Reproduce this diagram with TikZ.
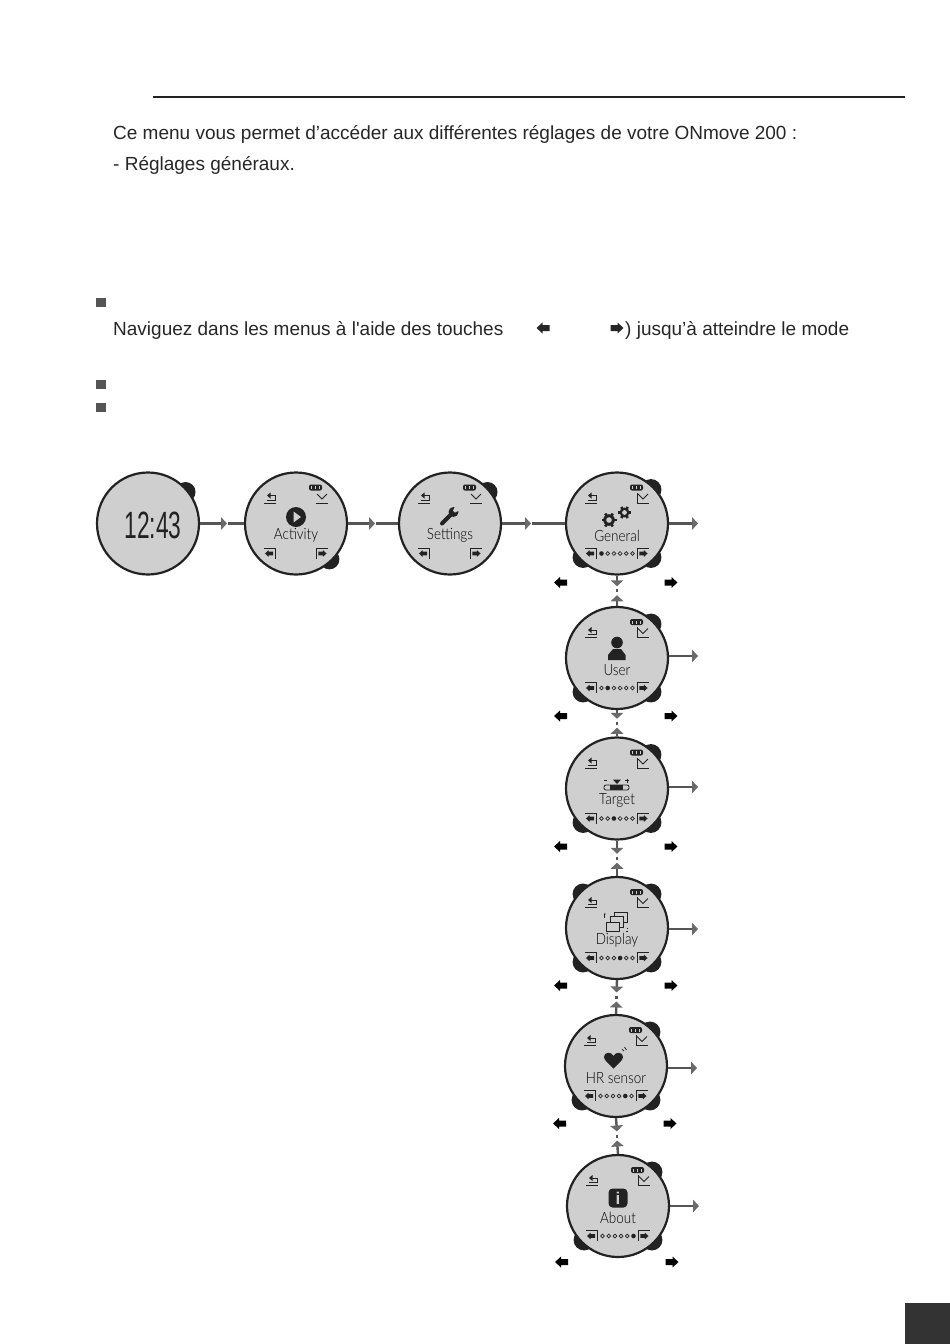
\documentclass[tikz,border=0pt]{standalone}
\usepackage{fontspec}
\setmainfont[Ligatures=TeXOff]{Liberation Sans}
\newfontfamily\lcdfont[FakeStretch=0.87]{Lato Light}
\usepackage{xcolor}
\usetikzlibrary{arrows.meta, positioning, calc}

\definecolor{facegray}{HTML}{CFCFCF}
\definecolor{inkgray}{HTML}{222222}
\definecolor{linkgray}{HTML}{555555}
\definecolor{tipgray}{HTML}{6A6A6A}
\definecolor{bulletgray}{HTML}{555555}

\tikzset{
  watchface/.style={circle,draw=inkgray,fill=facegray,line width=2.2pt,minimum size=102pt,inner sep=0pt},
  watchbtn/.style={fill=inkgray},
  bodytext/.style={anchor=base west,inner sep=0pt,text=black!85,font=\fontsize{19}{21}\selectfont},
  lcdlabel/.style={inner sep=0pt,text=black,font=\lcdfont\fontsize{15.5}{15.5}\selectfont},
  keyline/.style={draw=inkgray,line width=1pt},
  linkin/.style={draw=linkgray,line width=2.4pt,-{Triangle[length=6pt,width=12.5pt,color=tipgray]}},
  linkout/.style={draw=linkgray,line width=2.4pt},
  leftkey/.pic={\fill (-6.5,0) -- (-0.5,-5.5) -- (-0.5,-3) -- (6.5,-3) -- (6.5,3) -- (-0.5,3) -- (-0.5,5.5) -- cycle;},
  rightkey/.pic={\fill (6.5,0) -- (0.5,-5.5) -- (0.5,-3) -- (-6.5,-3) -- (-6.5,3) -- (0.5,3) -- (0.5,5.5) -- cycle;}
}

% back, confirm, battery and the two side keys, from the watch centre
\newcommand{\softkeys}{
  \draw[keyline] (-32,-20.5) -- (-20.5,-20.5);
  \draw[keyline] (-26,-28) -- (-21,-28) -- (-21,-23.5) -- (-29,-23.5);
  \fill[inkgray] (-29,-28) -- (-25.5,-31) -- (-25.5,-25) -- cycle;
  \draw[keyline] (20,-20.5) -- (32,-20.5);
  \draw[keyline] (21,-29.5) -- (26,-24.5) -- (31,-29.5);
  \fill[inkgray,rounded corners=2pt] (13,-39) rectangle (26,-33);
  \foreach \k in {15.5,19.5,23.5} \fill[facegray] (\k-1,-37.5) rectangle (\k+.6,-34.5);
  \draw[keyline] (-32,24.5) -- (-20.5,24.5) -- (-20.5,35);
  \draw[keyline] (32,24.5) -- (20,24.5) -- (20,35);
  \pic[scale=.62,inkgray] at (-27,30) {leftkey};
  \pic[scale=.62,inkgray] at (26.5,30) {rightkey};
}
% the extra side of the confirm key on the menu screens
\newcommand{\confirmside}{\draw[keyline] (20,-31) -- (20,-20.5);}

\newcommand{\gearicon}[3]{
  \begin{scope}[shift={(#1,#2)},scale=#3]
    \foreach \a in {0,60,...,300} \draw[line width=2.6pt,inkgray] (\a:4) -- (\a:7.5);
    \fill[inkgray] (0,0) circle (5.8);
    \fill[facegray] (0,0) circle (2.8);
  \end{scope}
}

\begin{document}
\begin{tikzpicture}[x=1pt,y=-1pt]
  \useasboundingbox (0,0) rectangle (950,1344);

  % Page furniture
  \coordinate (rule start) at (153,97);
  \coordinate (rule end) at (905,97);
  \draw[line width=2.2pt,inkgray] (rule start) -- (rule end);
  \fill[black!80] (905,1303) rectangle (950,1344);

  % Text
  \node[bodytext] (intro) at (113,139) {Ce menu vous permet d’accéder aux différentes réglages de votre ONmove 200 :};
  \node[bodytext] (general text) at (113,170) {- Réglages généraux.};
  \node[bodytext] (browse text) at (113,335) {Naviguez dans les menus à l'aide des touches};
  \node[bodytext] (browse end) at (625,335) {) jusqu’à atteindre le mode};
  \pic[black!85] at (543,328) {leftkey};
  \pic[black!85] at (617,328) {rightkey};
  \foreach \y in {302,384,407}
    \fill[bulletgray] (96,\y-4.5) rectangle (105.5,\y+4.5);

  % Top row of watches
  \foreach \name/\cx/\a in {clock/148/-40, activity/296/47, settings/450/-40} {
    \fill[watchbtn] (\cx,523.5) ++(\a:49) circle (10);
    \node[watchface] (\name) at (\cx,523.5) {};
  }
  \node[inner sep=0pt,text=inkgray,font=\fontsize{38}{38}\selectfont] (clock time) at (153,525) {\scalebox{.6}[1]{12:43}};
  \foreach \name/\lab in {activity/Activity, settings/Settings} {
    \begin{scope}[shift={(\name.center)}]
      \softkeys
      \node[lcdlabel] (\name label) at (0,12) {\lab};
    \end{scope}
  }

  % Column of menu watches
  \foreach \name/\cx/\cy/\btns/\lab/\dot/\ly/\off/\dy in {
    general/617/523.5/{-45,45,135}/General/1/12.5/0/59,
    user/617/658/{-45,45,135}/User/2/12.5/-2/58,
    target/617/788.5/{-45,45,135}/Target/3/12/-1.5/58,
    display/617/928/{-135,-45,45,135}/Display/4/12/1/57.5,
    hr/616/1066/{-45,45,135}/HR sensor/5/12/2/57.5,
    about/618/1206/{-45,45,135}/About/6/11.5/0/56} {
    \foreach \a in \btns
      \fill[watchbtn] (\cx,\cy) ++(\a:48) circle (10.5);
    \node[watchface] (\name) at (\cx,\cy) {};
    \begin{scope}[shift={(\name.center)}]
      \softkeys
      \confirmside
      \node[lcdlabel] (\name label) at (0,\ly) {\lab};
      \foreach \i in {1,...,6} {
        \ifnum\i=\dot\relax
          \fill[inkgray] (-15.5+6.2*\i-6.2,30) circle (2.3);
        \else
          \draw[inkgray,line width=.7pt] (-15.5+6.2*\i-6.2,30) circle (1.9);
        \fi
      }
      \pic[black] at (-56.5,\dy) {leftkey};
      \pic[black] at (54,\dy) {rightkey};
    \end{scope}
    \coordinate (\name out) at (\cx+81,\cy+\off);
    \draw[linkin] (\name.east |- \name out) -- (\name out);
  }

  % Screen icons
  \begin{scope}[shift={(activity.center)}]
    \fill[inkgray] (0,-6.5) circle (10);
    \fill[facegray] (-2.5,-12) -- (5,-6.5) -- (-2.5,-1) -- cycle;
  \end{scope}
  \begin{scope}[shift={(settings.center)}]
    \draw[inkgray,line width=4pt,line cap=round] (-8,0) -- (2,-10);
    \fill[inkgray] (3.5,-11.5) circle (5);
    \fill[facegray] (3,-13) -- (6,-19) -- (11,-14) -- (5,-11) -- cycle;
  \end{scope}
  \begin{scope}[shift={(general.center)}]
    \gearicon{-8}{-3.5}{1}
    \gearicon{7.5}{-11}{.85}
  \end{scope}
  \begin{scope}[shift={(user.center)}]
    \fill[inkgray] (0,-15.5) circle (5.8);
    \fill[inkgray] (-9,2) -- (-9,-3) -- (-4,-9) -- (4,-9) -- (8.5,-3) -- (8.5,2) -- cycle;
  \end{scope}
  \begin{scope}[shift={(target.center)}]
    \fill[inkgray] (-4,-9) -- (4,-9) -- (0,-4.5) -- cycle;
    \draw[inkgray,line width=.8pt,rounded corners=2pt] (-13,-3.5) rectangle (12,1.5);
    \fill[inkgray] (-7,-3.5) rectangle (6,1.5);
    \draw[inkgray,line width=.8pt] (-13,-8) -- (-10,-8) (8,-8) -- (12,-8) (10,-10) -- (10,-6);
  \end{scope}
  \begin{scope}[shift={(display.center)}]
    \draw[inkgray,line width=1pt,fill=facegray] (-3,-16) rectangle (10,-6);
    \draw[inkgray,line width=1pt,fill=facegray] (-7,-12) rectangle (6,-1);
    \draw[inkgray,line width=1pt,fill=facegray] (-11,-6) rectangle (2,3);
    \draw[inkgray,line width=.8pt,->,>={Stealth[length=2pt]}] (-13,-10) -- (-13,-14) -- (-11,-14);
    \draw[inkgray,line width=1pt] (9,3) -- (11,3) (10,-.5) -- (10,.5);
  \end{scope}
  \begin{scope}[shift={(hr.center)}]
    \fill[inkgray] (-2.5,2.5) .. controls (-8,-3) and (-12,-6) .. (-12,-9)
      .. controls (-12,-14) and (-5,-15) .. (-2.5,-10)
      .. controls (0,-15) and (7,-14) .. (7,-9)
      .. controls (7,-6) and (3,-3) .. (-2.5,2.5) -- cycle;
    \draw[inkgray,line width=.7pt] (6,-17) -- (8,-15) (8.5,-19) -- (10.5,-16);
  \end{scope}
  \begin{scope}[shift={(about.center)}]
    \fill[inkgray,rounded corners=4pt] (-9.5,-17.5) rectangle (9.5,1.5);
    \node[inner sep=0pt,text=facegray,font=\bfseries\fontsize{17}{17}\selectfont] (about sign) at (0,-8) {i};
  \end{scope}

  % Links along the top row
  \coordinate (clock tip) at (227,523.5);
  \coordinate (activity tip) at (375,523.5);
  \coordinate (settings tip) at (531,523.5);
  \draw[linkin] (clock) -- (clock tip);
  \draw[linkout] (clock tip) ++(1,0) -- (activity);
  \draw[linkin] (activity) -- (activity tip);
  \draw[linkout] (activity tip) ++(1,0) -- (settings);
  \draw[linkin] (settings) -- (settings tip);
  \draw[linkout] (settings tip) ++(1,0) -- (general);

  % Links down the column
  \foreach \upper/\lower in {general/user, user/target, target/display, display/hr, hr/about} {
    \coordinate (\upper mid) at ($(\upper.south)!.5!(\lower.north)$);
    \coordinate (\upper tip) at ($(\upper mid)+(0,-4.5)$);
    \coordinate (\lower tip) at ($(\upper mid)+(0,4.5)$);
    \draw[linkin] (\upper.south) -- (\upper tip);
    \draw[linkin] (\lower.north) -- (\lower tip);
    \draw[linkout] ($(\upper mid)+(0,-1.5)$) -- ($(\upper mid)+(0,1.5)$);
  }
\end{tikzpicture}
\end{document}
